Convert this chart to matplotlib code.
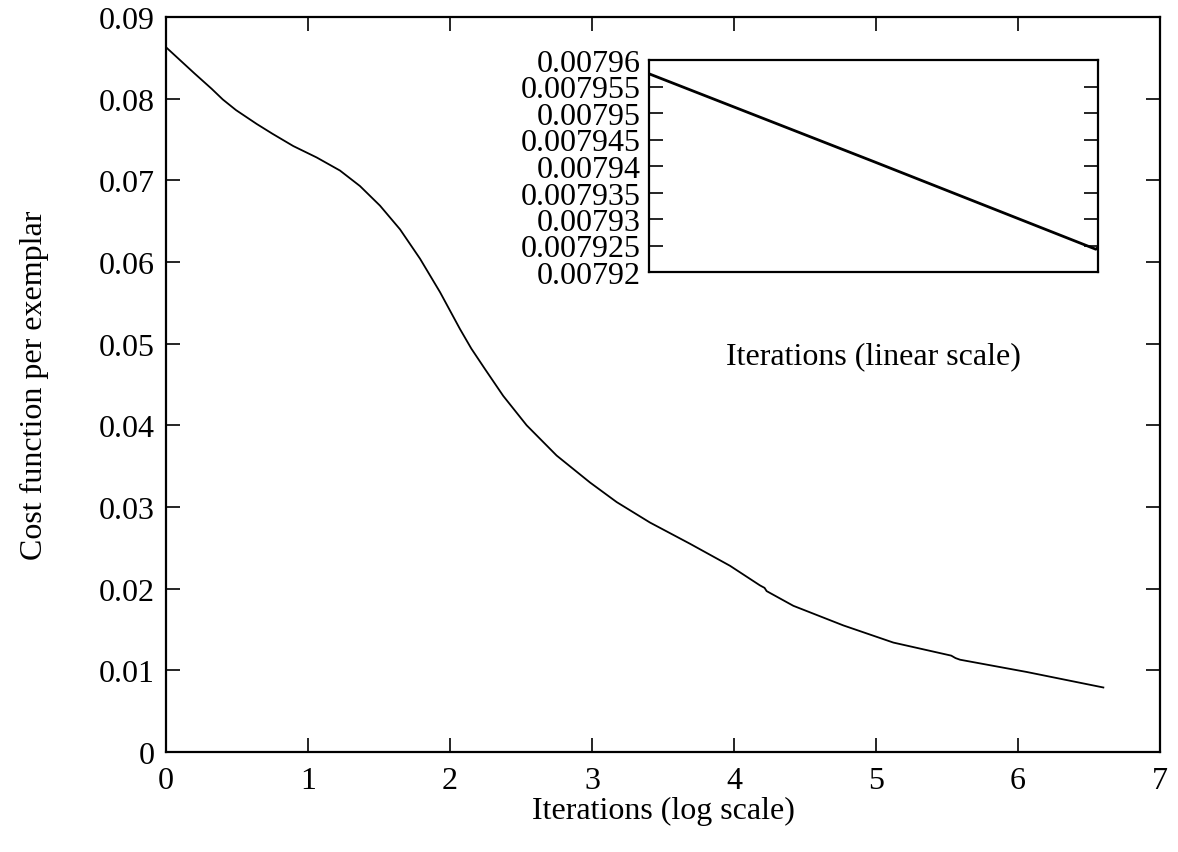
import matplotlib
matplotlib.use("Agg")
import matplotlib.pyplot as plt

# Training curve: cost per exemplar against log10(iterations)
log_iterations = [0.0, 0.10, 0.20, 0.322, 0.40, 0.493, 0.639, 0.75, 0.896, 1.061,
                  1.225, 1.366, 1.507, 1.648, 1.789, 1.930, 2.070, 2.150, 2.246,
                  2.375, 2.540, 2.751, 2.986, 3.174, 3.408, 3.690, 3.972, 4.183,
                  4.215, 4.230, 4.418, 4.770, 5.122, 5.530, 5.560, 5.592, 6.061,
                  6.601]
cost = [0.0863, 0.0847, 0.0831, 0.0812, 0.0799, 0.0786, 0.0769, 0.0757, 0.0742,
        0.0728, 0.0712, 0.0693, 0.0669, 0.0640, 0.0604, 0.0563, 0.0518, 0.0494,
        0.0469, 0.0436, 0.0400, 0.0363, 0.0330, 0.0306, 0.0281, 0.0255, 0.0228,
        0.0204, 0.0201, 0.0197, 0.0179, 0.0155, 0.0134, 0.0118, 0.0115, 0.0113,
        0.0098, 0.0079]

# Tail of the run on a linear iteration axis
inset_iterations = [0.0, 0.5, 0.995, 1.0]
inset_cost = [0.0079574, 0.00794085, 0.0079243, 0.0079246]

x_ticks = [0, 1, 2, 3, 4, 5, 6, 7]
y_ticks = [0, 0.01, 0.02, 0.03, 0.04, 0.05, 0.06, 0.07, 0.08, 0.09]
y_tick_labels = ["0", "0.01", "0.02", "0.03", "0.04", "0.05", "0.06", "0.07", "0.08", "0.09"]
inset_y_ticks = [0.00792, 0.007925, 0.00793, 0.007935, 0.00794, 0.007945,
                 0.00795, 0.007955, 0.00796]
inset_y_labels = ["0.00792", "0.007925", "0.00793", "0.007935", "0.00794",
                  "0.007945", "0.00795", "0.007955", "0.00796"]

plt.rcParams["font.family"] = ["Liberation Serif", "DejaVu Serif"]
FS = 23

fig = plt.figure(figsize=(11.78, 8.53), dpi=100)
ax = fig.add_axes([166 / 1178, 1 - 753 / 853, (1160 - 166) / 1178, (753 - 18) / 853])
ax.plot(log_iterations, cost, color="black", lw=1.3)
ax.set_xlim(0, 7)
ax.set_ylim(0, 0.09)
ax.set_xticks(x_ticks)
ax.set_xticklabels([str(v) for v in x_ticks])
ax.set_yticks(y_ticks)
ax.set_yticklabels(y_tick_labels)
ax.tick_params(direction="in", length=10, width=1.2, top=True, right=True,
               labelsize=FS, pad=8)
ax.tick_params(axis="x", pad=10)
for s in ax.spines.values():
    s.set_linewidth(1.6)
ax.set_xlabel("Iterations (log scale)", fontsize=FS, labelpad=1)
ax.set_ylabel("Cost function per exemplar", fontsize=FS, labelpad=36)

ins = fig.add_axes([649 / 1178, 1 - 273 / 853, (1098 - 649) / 1178, (273 - 61) / 853])
ins.plot(inset_iterations, inset_cost, color="black", lw=2.0)
ins.set_xlim(0, 1)
ins.set_ylim(0.00792, 0.00796)
ins.set_yticks(inset_y_ticks)
ins.set_yticklabels(inset_y_labels)
ins.set_xticks([])
ins.tick_params(direction="in", length=10, width=1.2, left=True, right=True,
                labelsize=FS, pad=6)
for s in ins.spines.values():
    s.set_linewidth(1.6)
ins.set_xlabel("Iterations (linear scale)", fontsize=FS, labelpad=50)

fig.savefig("out.png", dpi=100)
